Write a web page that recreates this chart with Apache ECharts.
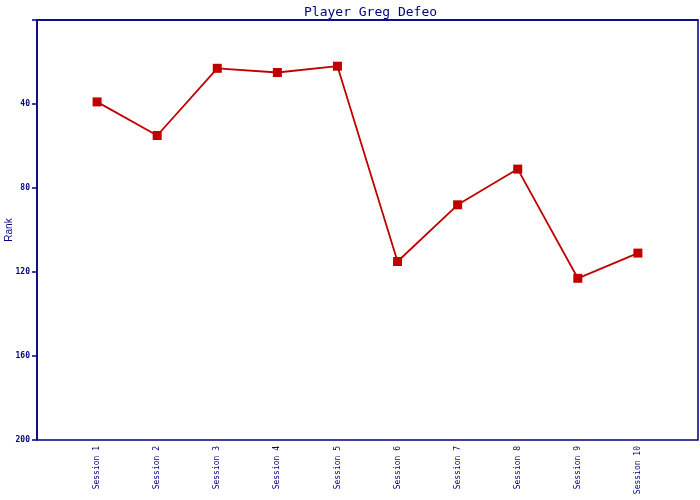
<!DOCTYPE html>
<html>
<head>
<meta charset="utf-8">
<script src="https://cdn.jsdelivr.net/npm/echarts@6/dist/echarts.min.js"></script>
<style>html,body{margin:0;padding:0;background:#fff}#c{width:700px;height:500px}</style>
</head>
<body>
<div id="c"></div>
<script>
var categories = ['Session 1','Session 2','Session 3','Session 4','Session 5','Session 6','Session 7','Session 8','Session 9','Session 10'];
var ranks = [39, 55, 23, 25, 22, 115, 88, 71, 123, 111];
var yTicks = [40, 80, 120, 160, 200];

var navy = '#000080';
var chart = echarts.init(document.getElementById('c'));
chart.setOption({
  animation: false,
  backgroundColor: '#ffffff',
  title: {
    text: 'Player Greg Defeo',
    left: 299, top: 1,
    textStyle: { fontFamily: 'DejaVu Sans Mono', fontSize: 13, fontWeight: 'normal', color: navy }
  },
  grid: { left: 37, right: 2, top: 20, bottom: 60, containLabel: false, outerBoundsMode: 'none', show: true, borderColor: navy, borderWidth: 1.5, backgroundColor: 'transparent' },
  xAxis: {
    type: 'value', min: 0, max: categories.length + 1, interval: 1,
    axisLine: { show: true, lineStyle: { color: navy, width: 1.5 } },
    axisTick: { show: false },
    splitLine: { show: false },
    axisLabel: {
      rotate: 90, margin: 6, color: navy, fontFamily: 'DejaVu Sans Mono', fontSize: 8,
      showMinLabel: false, showMaxLabel: false,
      formatter: function (v) { return categories[v - 1] || ''; }
    }
  },
  yAxis: {
    type: 'value', inverse: true, min: 0, max: 200, interval: 40,
    name: 'Rank', nameLocation: 'middle', nameGap: 23, nameRotate: 90, nameMoveOverlap: false,
    nameTextStyle: { color: navy, fontFamily: 'Liberation Sans', fontSize: 10 },
    axisLine: { show: true, lineStyle: { color: navy, width: 1.5 } },
    axisTick: { show: true, length: 5, lineStyle: { color: navy, width: 1.5 } },
    splitLine: { show: false },
    axisLabel: {
      margin: 7, color: navy, fontFamily: 'DejaVu Sans Mono', fontSize: 8, fontWeight: 'bold',
      formatter: function (v) { return yTicks.indexOf(v) >= 0 ? String(v) : ''; }
    }
  },
  series: [{
    type: 'line',
    data: ranks.map(function (r, i) { return [i + 1, r]; }),
    symbol: 'rect', symbolSize: 9,
    lineStyle: { color: '#c00000', width: 1.8 },
    itemStyle: { color: '#c00000' }
  }]
});
</script>
</body>
</html>
